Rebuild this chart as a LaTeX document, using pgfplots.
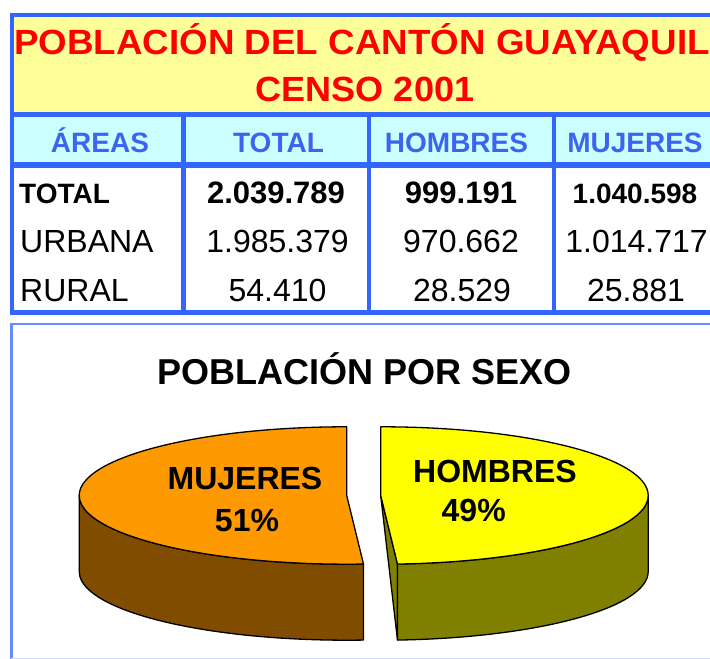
\documentclass[border=0pt]{standalone}
\usepackage{pgfplots}
\pgfplotsset{compat=1.18}
\usepackage{pgfplotstable}
\usepackage{fontspec}
\setmainfont{Liberation Sans}
\definecolor{tblue}{RGB}{51,102,255}
\definecolor{bxblue}{RGB}{100,140,255}
\definecolor{hblue}{RGB}{60,100,240}
\definecolor{tyellow}{RGB}{255,255,153}
\definecolor{tcyan}{RGB}{204,255,255}
\definecolor{morange}{RGB}{255,153,0}
\definecolor{mbrown}{RGB}{128,76,0}
\definecolor{hyellow}{RGB}{255,255,0}
\definecolor{holive}{RGB}{128,128,0}
\pgfplotstableread{
sexo valor
HOMBRES 49
MUJERES 51
}\sexo
\newcommand\fs[1]{\fontsize{#1}{#1}\selectfont}
\begin{document}
\begin{tikzpicture}[x=1pt,y=1pt]
\pgfplotstablegetelem{0}{valor}\of\sexo
\pgfmathsetmacro{\vh}{\pgfplotsretval}
\pgfmathsetmacro{\cut}{90-3.6*\vh}
\pgfmathsetmacro{\cutm}{360+\cut}
\pgfmathsetmacro{\R}{267.5}
\pgfmathsetmacro{\r}{68.7}
\pgfmathsetmacro{\cy}{163.5}
\pgfmathsetmacro{\mx}{346.7}
\pgfmathsetmacro{\hx}{380.7}
\pgfmathsetmacro{\rhx}{\hx+\R*cos(\cut)}
\pgfmathsetmacro{\rhy}{\cy+\r*sin(\cut)}
\pgfmathsetmacro{\mleft}{\mx-\R}
\useasboundingbox (0,0) rectangle (710,659);
\fill[white] (0,0) rectangle (710,659);
\begin{axis}[at={(0,0)},anchor=south west,x=1pt,y=1pt,
  xmin=0,xmax=710,ymin=0,ymax=659,hide axis,clip=true]
% ---------- table ----------
\fill[tblue] (10,344.3) rectangle (760,646.3);
\fill[tyellow] (14,547) rectangle (760,642);
\fill[tcyan] (14,497) rectangle (181,542);
\fill[tcyan] (186,497) rectangle (367,542);
\fill[tcyan] (371,497) rectangle (552,542);
\fill[tcyan] (556,497) rectangle (760,542);
\fill[white] (14,349) rectangle (181,491);
\fill[white] (186,349) rectangle (367,491);
\fill[white] (371,349) rectangle (552,491);
\fill[white] (556,349) rectangle (760,491);
\node[anchor=base,text=red,font=\fs{35}\bfseries,inner sep=0,xscale=1.05] at (362,604) {POBLACIÓN DEL CANTÓN GUAYAQUIL};
\node[anchor=base,text=red,font=\fs{35}\bfseries,inner sep=0,xscale=1.03] at (365,557.3) {CENSO 2001};
\node[anchor=base,text=hblue,font=\fs{28}\bfseries,inner sep=0] at (100,506.3) {ÁREAS};
\node[anchor=base,text=hblue,font=\fs{28}\bfseries,inner sep=0] at (278.5,506.3) {TOTAL};
\node[anchor=base,text=hblue,font=\fs{28}\bfseries,inner sep=0] at (456.5,506.3) {HOMBRES};
\node[anchor=base,text=hblue,font=\fs{28}\bfseries,inner sep=0] at (635,506.3) {MUJERES};
\node[anchor=base west,font=\fs{28}\bfseries,inner sep=0] at (19,455) {TOTAL};
\node[anchor=base west,font=\fs{32},inner sep=0] at (20,406.3) {URBANA};
\node[anchor=base west,font=\fs{32},inner sep=0] at (20,357.3) {RURAL};
\node[anchor=base,font=\fs{31}\bfseries,inner sep=0] at (276,455) {2.039.789};
\node[anchor=base,font=\fs{31}\bfseries,inner sep=0] at (461,455) {999.191};
\node[anchor=base,font=\fs{28}\bfseries,inner sep=0] at (635,455) {1.040.598};
\node[anchor=base,font=\fs{32},inner sep=0] at (277.5,406.3) {1.985.379};
\node[anchor=base,font=\fs{32},inner sep=0] at (461,406.3) {970.662};
\node[anchor=base,font=\fs{32},inner sep=0] at (636.5,406.3) {1.014.717};
\node[anchor=base,font=\fs{32},inner sep=0] at (277.5,357.3) {54.410};
\node[anchor=base,font=\fs{32},inner sep=0] at (462,357.3) {28.529};
\node[anchor=base,font=\fs{32},inner sep=0] at (636,357.3) {25.881};
% ---------- chart box ----------
\draw[bxblue,line width=2.5pt] (11.3,-5) -- (11.3,335.2) -- (760,335.2);
\draw[bxblue!30,line width=1pt] (11.3,0.8) -- (760,0.8);
\node[anchor=base,font=\fs{36}\bfseries,inner sep=0] at (364.5,274) {POBLACIÓN POR SEXO};
% ---------- pie ----------
\filldraw[fill=mbrown,draw=black,line width=1.3pt,line join=round]
  (\mleft,\cy) arc[start angle=180,end angle=\cutm,x radius=\R pt,y radius=\r pt]
  -- ++(0pt,-76pt) arc[start angle=\cutm,end angle=180,x radius=\R pt,y radius=\r pt] -- cycle;
\filldraw[fill=morange,draw=black,line width=1.3pt,line join=round]
  (\mx,\cy) -- ++(0pt,\r pt) arc[start angle=90,end angle=\cutm,x radius=\R pt,y radius=\r pt] -- cycle;
\filldraw[fill=holive,draw=black,line width=1.3pt,line join=round]
  (\hx,\cy) -- (\rhx,\rhy) -- ++(0pt,-76pt) -- cycle;
\filldraw[fill=holive,draw=black,line width=1.3pt,line join=round]
  (\rhx,\rhy) arc[start angle=\cut,end angle=0,x radius=\R pt,y radius=\r pt]
  -- ++(0pt,-76pt) arc[start angle=0,end angle=\cut,x radius=\R pt,y radius=\r pt] -- cycle;
\filldraw[fill=hyellow,draw=black,line width=1.3pt,line join=round]
  (\hx,\cy) -- ++(0pt,\r pt) arc[start angle=90,end angle=\cut,x radius=\R pt,y radius=\r pt] -- cycle;
\node[anchor=base,font=\fs{32}\bfseries,inner sep=0] at (245,169) {MUJERES};
\node[anchor=base,font=\fs{32}\bfseries,inner sep=0] at (247,127.3) {51\%};
\node[anchor=base,font=\fs{32}\bfseries,inner sep=0] at (495,176.7) {HOMBRES};
\node[anchor=base,font=\fs{32}\bfseries,inner sep=0] at (473.7,137.3) {49\%};
\end{axis}
\end{tikzpicture}
\end{document}
